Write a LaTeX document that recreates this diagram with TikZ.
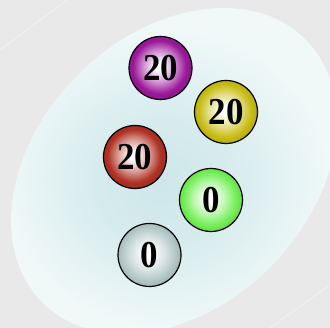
\documentclass[tikz,border=0pt]{standalone}
\usepackage{fontspec}
\setmainfont{Liberation Serif}
\newfontfamily\ballfont[FakeStretch=0.92]{Liberation Serif}
\usepackage{xcolor}
\usepackage{tikz}
\usetikzlibrary{shadings}
\definecolor{paper}{RGB}{233,233,233}
\definecolor{hazein}{RGB}{206,231,234}
\definecolor{hazeout}{RGB}{240,248,248}
\definecolor{plum}{RGB}{155,25,155}
\definecolor{mustard}{RGB}{200,188,20}
\definecolor{brick}{RGB}{175,50,35}
\definecolor{lime}{RGB}{115,238,85}
\definecolor{mist}{RGB}{180,200,200}
\colorlet{ballc}{plum}
% soft highlight, colour of the rim taken from ballc
\pgfdeclareradialshading[ballc]{ballshade}{\pgfpoint{-1.5bp}{1.5bp}}{%
  color(0bp)=(white); color(3bp)=(white); color(13bp)=(ballc!50!white);
  color(21bp)=(ballc); color(25bp)=(ballc!92!black); color(50bp)=(ballc!92!black)}
\pgfdeclareradialshading{haze}{\pgfpoint{-2bp}{-2bp}}{%
  color(0bp)=(hazein); color(9bp)=(hazein!75!hazeout);
  color(22bp)=(hazeout); color(50bp)=(hazeout)}
\tikzset{
  ball/.style={
    circle, draw=black, line width=1.2pt, minimum size=63pt, inner sep=0pt,
    /utils/exec={\colorlet{ballc}{#1}}, shading=ballshade,
    font=\ballfont\bfseries\fontsize{38}{38}\selectfont},
  ball/.default=plum,
  texture/.style={white, line width=0.6pt, opacity=0.6},
}

\begin{document}
\begin{tikzpicture}[x=1pt,y=1pt]

\useasboundingbox (0,0) rectangle (330,328);
\fill[paper] (0,0) rectangle (330,328);

% ---------- backdrop ----------
\draw[texture] (0,278) -- (67,328);
\draw[texture] (270,0) -- (330,43);
\begin{scope}
  \clip (0,0) rectangle (330,328);
  \shade[shading=haze, rotate around={45:(174,157)}]
    (174,157) ellipse [x radius=186, y radius=136];
\end{scope}

% ---------- balls ----------
\node[ball=plum]    (purple) at (160.5,260) {20};
\node[ball=mustard] (yellow) at (226,216)   {20};
\node[ball=brick]   (red)    at (135,171)   {20};
\node[ball=lime]    (green)  at (211,128)   {0};
\node[ball=mist]    (grey)   at (149.5,73)  {0};

\end{tikzpicture}
\end{document}
